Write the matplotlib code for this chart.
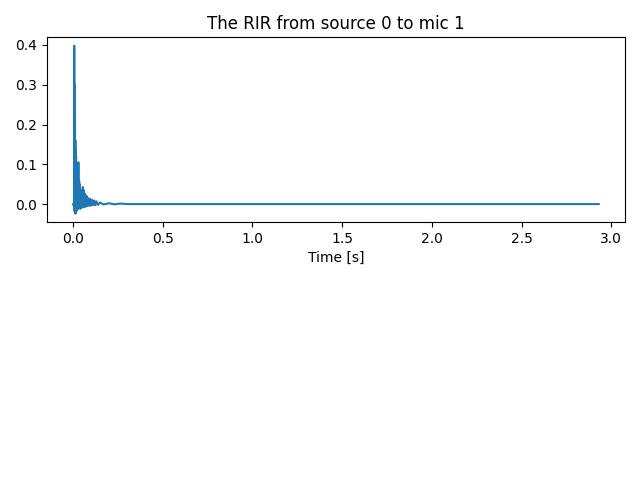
import matplotlib
matplotlib.use("Agg")
import matplotlib.pyplot as plt

# RIR samples (time in s, amplitude)
time_s = [0.000, 0.004, 0.006, 0.007, 0.008, 0.009, 0.010, 0.011, 0.012, 0.013,
          0.014, 0.015, 0.016, 0.017, 0.018, 0.019, 0.020, 0.022, 0.024, 0.026,
          0.028, 0.030, 0.032, 0.034, 0.036, 0.038, 0.040, 0.043, 0.046, 0.049,
          0.052, 0.055, 0.058, 0.061, 0.064, 0.068, 0.072, 0.076, 0.080, 0.085,
          0.090, 0.095, 0.100, 0.106, 0.112, 0.118, 0.124, 0.130, 0.140, 0.150,
          0.170, 0.200, 0.230, 0.260, 0.280, 0.300, 2.930]
rir = [0.000, -0.004, 0.000, 0.398, -0.015, 0.300, -0.020, 0.220, -0.022, 0.160,
       -0.024, 0.135, -0.020, 0.120, -0.018, 0.090, -0.015, 0.070, -0.012, 0.080,
       -0.012, 0.105, -0.010, 0.060, -0.010, 0.050, -0.012, 0.030, -0.009, 0.035,
       -0.008, 0.043, -0.008, 0.035, -0.007, 0.025, -0.006, 0.020, -0.005, 0.015,
       -0.004, 0.013, -0.004, 0.011, -0.003, 0.009, -0.003, 0.007, -0.002, 0.004,
       -0.001, 0.002, -0.0005, 0.001, 0.001, 0.000, 0.000]

fig = plt.figure(figsize=(6.4, 4.8), dpi=100)
ax = fig.add_subplot(2, 1, 1)
ax.plot(time_s, rir)
ax.set_title("The RIR from source 0 to mic 1")
ax.set_xlabel("Time [s]")
fig.tight_layout()
fig.savefig("out.png")
